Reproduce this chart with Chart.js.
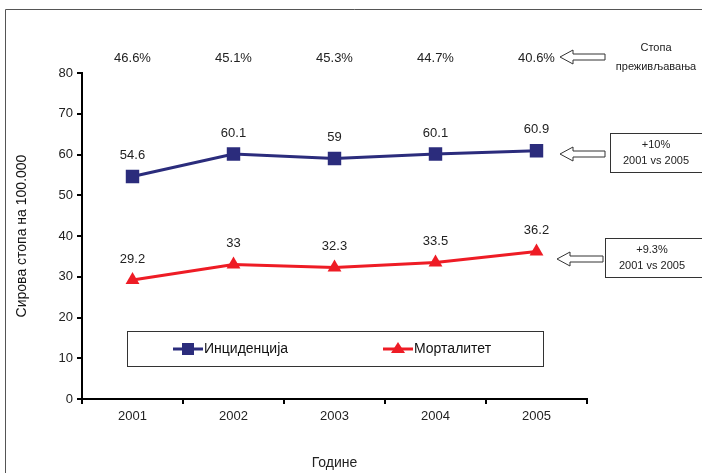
<!DOCTYPE html>
<html>
<head>
<meta charset="utf-8">
<script src="https://cdn.jsdelivr.net/npm/chart.js@4"></script>
<style>
  html, body { margin: 0; padding: 0; background: #fff; }
  #wrap { position: relative; width: 702px; height: 473px; }
</style>
</head>
<body>
<div id="wrap"><canvas id="chart" width="702" height="473"></canvas></div>
<script>
const years = ['2001', '2002', '2003', '2004', '2005'];
const incidence = [54.6, 60.1, 59, 60.1, 60.9];
const mortality = [29.2, 33, 32.3, 33.5, 36.2];
const survival = ['46.6%', '45.1%', '45.3%', '44.7%', '40.6%'];
const incidenceNote = ['+10%', '2001 vs 2005'];
const mortalityNote = ['+9.3%', '2001 vs 2005'];

const NAVY = '#2b2c7c';
const RED = '#ee1c25';
const FONT = '"Liberation Sans", Arial, sans-serif';

// hollow left-pointing arrow
function drawArrow(ctx, x1, x2, y) {
    const head = 13, hh = 7, sh = 3;
    ctx.beginPath();
    ctx.moveTo(x1, y);
    ctx.lineTo(x1 + head, y - hh);
    ctx.lineTo(x1 + head, y - sh);
    ctx.lineTo(x2, y - sh);
    ctx.lineTo(x2, y + sh);
    ctx.lineTo(x1 + head, y + sh);
    ctx.lineTo(x1 + head, y + hh);
    ctx.closePath();
    ctx.fillStyle = '#fff';
    ctx.fill();
    ctx.strokeStyle = '#333';
    ctx.lineWidth = 1;
    ctx.stroke();
}

const extras = {
    id: 'extras',
    afterDraw(chart) {
        const ctx = chart.ctx;
        const xs = chart.scales.x;
        ctx.save();

        // outer frame
        ctx.strokeStyle = '#555';
        ctx.lineWidth = 1;
        ctx.beginPath();
        ctx.moveTo(5.5, 480);
        ctx.lineTo(5.5, 9.5);
        ctx.lineTo(710, 9.5);
        ctx.stroke();

        // point value labels
        ctx.font = '13px ' + FONT;
        ctx.fillStyle = '#222';
        ctx.textAlign = 'center';
        ctx.textBaseline = 'middle';
        [0, 1].forEach(i => {
            const data = chart.data.datasets[i].data;
            chart.getDatasetMeta(i).data.forEach((pt, j) => {
                ctx.fillText(String(data[j]), pt.x, pt.y - 21);
            });
        });

        // survival rates row
        survival.forEach((s, j) => {
            ctx.fillText(s, xs.getPixelForValue(j), 58);
        });

        drawArrow(ctx, 560, 605, 57);
        drawArrow(ctx, 560, 605, 154);
        drawArrow(ctx, 557, 603, 259);

        ctx.font = '11px ' + FONT;
        ctx.fillStyle = '#222';
        ctx.fillText('Стопа', 656, 48);
        ctx.fillText('преживљавања', 656, 67);

        // note boxes
        ctx.strokeStyle = '#333';
        ctx.strokeRect(610.5, 133.5, 100, 39);
        ctx.strokeRect(605.5, 238.5, 110, 39);
        ctx.fillText(incidenceNote[0], 656, 145);
        ctx.fillText(incidenceNote[1], 656, 161);
        ctx.fillText(mortalityNote[0], 652, 250);
        ctx.fillText(mortalityNote[1], 652, 266);

        // legend
        ctx.strokeRect(127.5, 331.5, 416, 35);
        ctx.lineWidth = 3;
        ctx.strokeStyle = NAVY;
        ctx.beginPath(); ctx.moveTo(173, 349); ctx.lineTo(203, 349); ctx.stroke();
        ctx.fillStyle = NAVY;
        ctx.fillRect(182, 343, 12, 12);
        ctx.strokeStyle = RED;
        ctx.beginPath(); ctx.moveTo(383, 349); ctx.lineTo(413, 349); ctx.stroke();
        ctx.fillStyle = RED;
        ctx.beginPath(); ctx.moveTo(398, 342); ctx.lineTo(405, 353); ctx.lineTo(391, 353); ctx.closePath(); ctx.fill();
        ctx.font = '14px ' + FONT;
        ctx.fillStyle = '#111';
        ctx.textAlign = 'left';
        ctx.fillText('Инциденција', 204, 349);
        ctx.fillText('Морталитет', 414, 349);

        ctx.restore();
    }
};

new Chart(document.getElementById('chart'), {
    type: 'line',
    data: {
        labels: years,
        datasets: [
            {
                label: 'Инциденција',
                data: incidence,
                borderColor: NAVY,
                backgroundColor: NAVY,
                borderWidth: 3,
                pointStyle: 'rect',
                pointRadius: 9.5,
                pointBorderWidth: 0,
                tension: 0
            },
            {
                label: 'Морталитет',
                data: mortality,
                borderColor: RED,
                backgroundColor: RED,
                borderWidth: 3,
                pointStyle: 'triangle',
                pointRadius: 8,
                pointBorderWidth: 0,
                tension: 0
            }
        ]
    },
    options: {
        responsive: false,
        animation: false,
        layout: { padding: { left: 0, top: 73, right: 115, bottom: 0 } },
        plugins: {
            legend: { display: false },
            tooltip: { enabled: false }
        },
        scales: {
            x: {
                offset: true,
                grid: { offset: true, drawOnChartArea: false, tickLength: 5, color: '#000', lineWidth: 2 },
                border: { color: '#000', width: 2 },
                ticks: { color: '#222', font: { family: FONT, size: 13 }, padding: 5, maxRotation: 0 },
                title: { display: true, text: 'Године', color: '#222', font: { family: FONT, size: 14 }, padding: { top: 0, bottom: 1 } },
                afterFit(scale) { scale.height = 74; }
            },
            y: {
                min: 0,
                max: 80,
                ticks: { stepSize: 10, color: '#222', font: { family: FONT, size: 13 }, padding: 4 },
                grid: { drawOnChartArea: false, tickLength: 5, color: '#000', lineWidth: 2 },
                border: { color: '#000', width: 2 },
                title: { display: true, text: 'Сирова стопа на 100.000', color: '#111', font: { family: FONT, size: 14 }, padding: { top: 14, bottom: 0 } },
                afterFit(scale) { scale.width = 82; }
            }
        }
    },
    plugins: [extras]
});
</script>
</body>
</html>
